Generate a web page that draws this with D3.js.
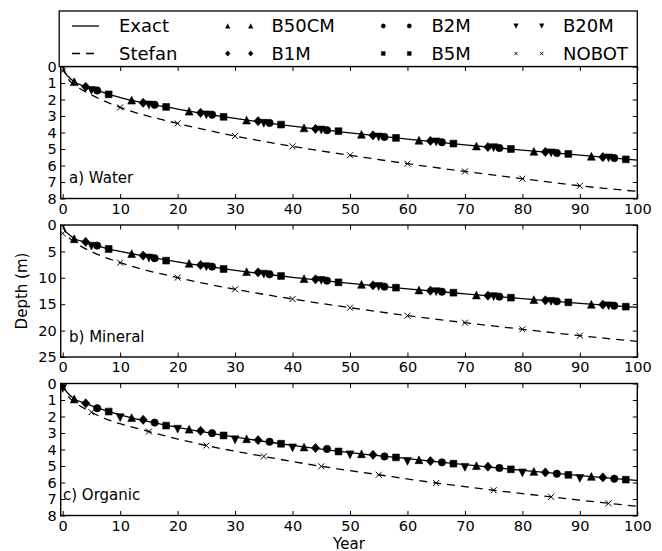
<!DOCTYPE html>
<html>
<head>
<meta charset="utf-8">
<script src="https://cdn.jsdelivr.net/npm/d3@7"></script>
<style>
    body { margin: 0; background: #fff; }
    svg text { font-family: "DejaVu Sans", sans-serif; fill: #000; }
</style>
</head>
<body>
<div id="container"></div>
<script>
// ---- data ----
const xTicks = [0, 10, 20, 30, 40, 50, 60, 70, 80, 90, 100];
const yTicksWater = [0, 1, 2, 3, 4, 5, 6, 7, 8];
const yTicksMineral = [0, 5, 10, 15, 20, 25];
const yTicksOrganic = [0, 1, 2, 3, 4, 5, 6, 7, 8];

const exactYears = [0, 0.5, 1, 2, 4, 6, 8, 10, 20, 30, 40, 50, 60, 70, 80, 90, 100];
const exactWater = [0, 0.42, 0.62, 0.92, 1.23, 1.44, 1.69, 1.88, 2.58, 3.15, 3.62, 4.02, 4.4, 4.75, 5.07, 5.37, 5.68];
const exactMineral = [0, 1.2, 1.7, 2.55, 3.22, 3.9, 4.55, 5.0, 7.0, 8.58, 9.9, 11.05, 12.09, 13.04, 13.95, 14.83, 15.6];
const exactOrganic = [0, 0.42, 0.62, 0.93, 1.2, 1.48, 1.7, 1.9, 2.66, 3.25, 3.75, 4.19, 4.55, 4.92, 5.27, 5.58, 5.88];

const stefanYears = [0, 1, 2, 5, 10, 20, 30, 40, 50, 60, 70, 80, 90, 100];
const stefanWater = [0, 0.78, 1.1, 1.72, 2.48, 3.45, 4.21, 4.84, 5.38, 5.89, 6.36, 6.8, 7.23, 7.57];
const stefanMineral = [0, 2.25, 3.19, 5.04, 7.13, 9.97, 12.18, 14.02, 15.66, 17.17, 18.5, 19.75, 20.96, 22.05];
const stefanYearsOrganic = [0, 1, 2, 5, 15, 25, 35, 45, 55, 65, 75, 85, 95, 100];
const stefanOrganic = [0, 0.8, 1.1, 1.74, 2.91, 3.76, 4.42, 5.02, 5.53, 6.03, 6.47, 6.87, 7.26, 7.44];

const yearsB50CM = [2, 12, 22, 32, 42, 52, 62, 72, 82, 92];
const yearsB1M = [4, 14, 24, 34, 44, 54, 64, 74, 84, 94];
const yearsB2M = [6, 16, 26, 36, 46, 56, 66, 76, 86, 96];
const yearsB5M = [8, 18, 28, 38, 48, 58, 68, 78, 88, 98];
const yearsFives = [5, 15, 25, 35, 45, 55, 65, 75, 85, 95];
const yearsTens = [0, 10, 20, 30, 40, 50, 60, 70, 80, 90];

const waterB50CM = [0.92, 2.04, 2.71, 3.25, 3.72, 4.11, 4.47, 4.82, 5.14, 5.44];
const waterB1M = [1.23, 2.2, 2.81, 3.31, 3.78, 4.17, 4.51, 4.88, 5.18, 5.49];
const waterB2M = [1.45, 2.32, 2.92, 3.42, 3.86, 4.27, 4.59, 4.94, 5.24, 5.55];
const waterB5M = [1.69, 2.45, 3.05, 3.52, 3.92, 4.33, 4.67, 5.0, 5.3, 5.63];
const waterB20M = [1.45, 2.33, 2.93, 3.44, 3.85, 4.27, 4.57, 4.92, 5.23, 5.54];
const waterNOBOT = [0.27, 2.48, 3.45, 4.21, 4.84, 5.38, 5.89, 6.36, 6.8, 7.23];

const mineralB50CM = [2.6, 5.43, 7.26, 8.84, 10.16, 11.24, 12.31, 13.26, 14.14, 15.02];
const mineralB1M = [3.2, 5.8, 7.58, 8.96, 10.29, 11.43, 12.44, 13.38, 14.27, 15.09];
const mineralB2M = [3.9, 6.3, 7.89, 9.34, 10.54, 11.68, 12.63, 13.57, 14.46, 15.28];
const mineralB5M = [4.55, 6.75, 8.33, 9.66, 10.86, 11.87, 12.82, 13.77, 14.65, 15.47];
const mineralB20M = [4.0, 6.25, 7.9, 9.3, 10.5, 11.65, 12.62, 13.55, 14.45, 15.3];
const mineralNOBOT = [1.6, 7.13, 9.97, 12.18, 14.02, 15.66, 17.17, 18.5, 19.75, 20.96];

const organicB50CM = [0.94, 2.07, 2.77, 3.35, 3.85, 4.26, 4.62, 4.98, 5.33, 5.63];
const organicB1M = [1.2, 2.2, 2.87, 3.43, 3.91, 4.32, 4.7, 5.04, 5.39, 5.69];
const organicB2M = [1.5, 2.37, 3.01, 3.53, 3.97, 4.42, 4.78, 5.12, 5.47, 5.77];
const organicB5M = [1.7, 2.55, 3.15, 3.65, 4.12, 4.48, 4.86, 5.2, 5.54, 5.83];
const organicB20M = [0.3, 2.07, 2.77, 3.41, 3.9, 4.32, 4.72, 5.08, 5.42, 5.75];
const organicNOBOT = [1.74, 2.91, 3.76, 4.42, 5.02, 5.53, 6.03, 6.47, 6.87, 7.26];

const legendLabels = ["Exact", "Stefan", "B50CM", "B1M", "B2M", "B5M", "B20M", "NOBOT"];

// ---- marker shapes ----
const shapes = {
    up: s => `M0,${-s}L${s},${s}L${-s},${s}Z`,
    down: s => `M0,${s}L${s},${-s}L${-s},${-s}Z`,
    circle: s => `M${s},0A${s},${s} 0 1,1 ${-s},0A${s},${s} 0 1,1 ${s},0Z`,
    square: s => `M${-s},${-s}H${s}V${s}H${-s}Z`,
    diamond: s => `M0,${-s}L${s * 0.9},0L0,${s}L${-s * 0.9},0Z`,
    cross: s => `M${-s},${-s}L${s},${s}M${-s},${s}L${s},${-s}`
};
const shapeSize = { up: 3.9, down: 3.9, circle: 3.7, square: 3.4, diamond: 4.6, cross: 3 };

const panels = [
    {
        name: "a) Water", labelX: 69, top: 66.5, domain: [0, 8], ticks: yTicksWater,
        exact: exactWater, stefanX: stefanYears, stefan: stefanWater,
        marks: [
            ["up", yearsB50CM, waterB50CM], ["diamond", yearsB1M, waterB1M],
            ["circle", yearsB2M, waterB2M], ["square", yearsB5M, waterB5M],
            ["down", yearsFives, waterB20M], ["cross", yearsTens, waterNOBOT]
        ]
    },
    {
        name: "b) Mineral", labelX: 69, top: 225, domain: [0, 25], ticks: yTicksMineral,
        exact: exactMineral, stefanX: stefanYears, stefan: stefanMineral,
        marks: [
            ["up", yearsB50CM, mineralB50CM], ["diamond", yearsB1M, mineralB1M],
            ["circle", yearsB2M, mineralB2M], ["square", yearsB5M, mineralB5M],
            ["down", yearsFives, mineralB20M], ["cross", yearsTens, mineralNOBOT]
        ]
    },
    {
        name: "c) Organic", labelX: 63, top: 383.5, domain: [0, 8], ticks: yTicksOrganic,
        exact: exactOrganic, stefanX: stefanYearsOrganic, stefan: stefanOrganic,
        marks: [
            ["up", yearsB50CM, organicB50CM], ["diamond", yearsB1M, organicB1M],
            ["circle", yearsB2M, organicB2M], ["square", yearsB5M, organicB5M],
            ["down", yearsTens, organicB20M], ["cross", yearsFives, organicNOBOT]
        ]
    }
];

const width = 662, height = 551;
const left = 60.7, right = 637.3, panelH = 132;

const svg = d3.select("#container").append("svg")
    .attr("width", width)
    .attr("height", height);

svg.append("rect").attr("width", width).attr("height", height).attr("fill", "#fff");

const x = d3.scaleLinear().domain([-0.35, 100]).range([left, right]);

panels.forEach((p, i) => {
    const y = d3.scaleLinear().domain(p.domain).range([p.top, p.top + panelH]);
    const g = svg.append("g");

    g.append("clipPath").attr("id", "clip" + i)
        .append("rect")
        .attr("x", left).attr("y", p.top)
        .attr("width", right - left).attr("height", panelH);

    const plot = g.append("g").attr("clip-path", `url(#clip${i})`);

    const line = d3.line()
        .x(d => x(d[0]))
        .y(d => y(d[1]))
        .curve(d3.curveMonotoneX);

    plot.append("path")
        .attr("d", line(exactYears.map((t, k) => [t, p.exact[k]])))
        .attr("fill", "none")
        .attr("stroke", "#000")
        .attr("stroke-width", 1.3);

    plot.append("path")
        .attr("d", line(p.stefanX.map((t, k) => [t, p.stefan[k]])))
        .attr("fill", "none")
        .attr("stroke", "#000")
        .attr("stroke-width", 1.3)
        .attr("stroke-dasharray", "8,6");

    p.marks.forEach(([shape, years, vals]) => {
        plot.selectAll(null)
            .data(years.map((t, k) => [t, vals[k]]))
            .enter().append("path")
            .attr("transform", d => `translate(${x(d[0])},${y(d[1])})`)
            .attr("d", shapes[shape](shapeSize[shape]))
            .attr("fill", shape === "cross" ? "none" : "#000")
            .attr("stroke", "#000")
            .attr("stroke-width", shape === "cross" ? 1 : 0.6);
    });

    // axes, ticks pointing inward on all four sides
    g.append("g")
        .attr("transform", `translate(0,${p.top + panelH})`)
        .call(d3.axisBottom(x).tickValues(xTicks).tickSizeInner(-4.5).tickSizeOuter(0).tickPadding(5));
    g.append("g")
        .attr("transform", `translate(0,${p.top})`)
        .call(d3.axisTop(x).tickValues(xTicks).tickSizeInner(-4.5).tickSizeOuter(0).tickFormat(""));
    g.append("g")
        .attr("transform", `translate(${left},0)`)
        .call(d3.axisLeft(y).tickValues(p.ticks).tickSizeInner(-4.5).tickSizeOuter(0).tickPadding(4));
    g.append("g")
        .attr("transform", `translate(${right},0)`)
        .call(d3.axisRight(y).tickValues(p.ticks).tickSizeInner(-4.5).tickSizeOuter(0).tickFormat(""));

    g.selectAll(".domain").remove();
    g.selectAll(".tick line").attr("stroke", "#000").attr("stroke-width", 1);
    g.selectAll(".tick text")
        .style("font-size", "14.5px")
        .style("font-family", "'DejaVu Sans', sans-serif")
        .attr("fill", "#000");

    g.append("rect")
        .attr("x", left).attr("y", p.top)
        .attr("width", right - left).attr("height", panelH)
        .attr("fill", "none")
        .attr("stroke", "#000")
        .attr("stroke-width", 1.4);

    g.append("text")
        .attr("x", p.labelX)
        .attr("y", p.top + panelH - 15.5)
        .style("font-size", "15px")
        .text(p.name);
});

// axis titles
svg.append("text")
    .attr("transform", `translate(27,291) rotate(-90)`)
    .attr("text-anchor", "middle")
    .style("font-size", "15px")
    .text("Depth (m)");

svg.append("text")
    .attr("x", (left + right) / 2)
    .attr("y", 548.5)
    .attr("text-anchor", "middle")
    .style("font-size", "15px")
    .text("Year");

// ---- legend ----
const legTop = 11, legBottom = 66.5;
const legend = svg.append("g");
legend.append("rect")
    .attr("x", left - 1.5).attr("y", legTop)
    .attr("width", right - left + 1.5).attr("height", legBottom - legTop)
    .attr("fill", "#fff")
    .attr("stroke", "#000")
    .attr("stroke-width", 1.3);

const rowY = [26, 53.5];
const cols = [
    { h0: 72, h1: 99, tx: 119 },
    { h0: 227.7, h1: 250.7, tx: 271.5 },
    { h0: 383.3, h1: 409.3, tx: 431.5 },
    { h0: 516, h1: 541.7, tx: 563 }
];
const legendShapes = [null, null, "up", "diamond", "circle", "square", "down", "cross"];

legendLabels.forEach((label, k) => {
    const c = cols[Math.floor(k / 2)], ry = rowY[k % 2];
    if (k < 2) {
        legend.append("line")
            .attr("x1", c.h0).attr("x2", c.h1)
            .attr("y1", ry).attr("y2", ry)
            .attr("stroke", "#000")
            .attr("stroke-width", 1.3)
            .attr("stroke-dasharray", k === 1 ? "8,6" : null);
    } else {
        const shape = legendShapes[k];
        [c.h0, c.h1].forEach(hx => {
            legend.append("path")
                .attr("transform", `translate(${hx},${ry})`)
                .attr("d", shapes[shape](shapeSize[shape] * 0.58))
                .attr("fill", shape === "cross" ? "none" : "#000")
                .attr("stroke", "#000")
                .attr("stroke-width", shape === "cross" ? 0.9 : 0.4);
        });
    }
    legend.append("text")
        .attr("x", c.tx)
        .attr("y", ry)
        .attr("dy", "0.36em")
        .style("font-size", "18px")
        .text(label);
});
</script>
</body>
</html>
